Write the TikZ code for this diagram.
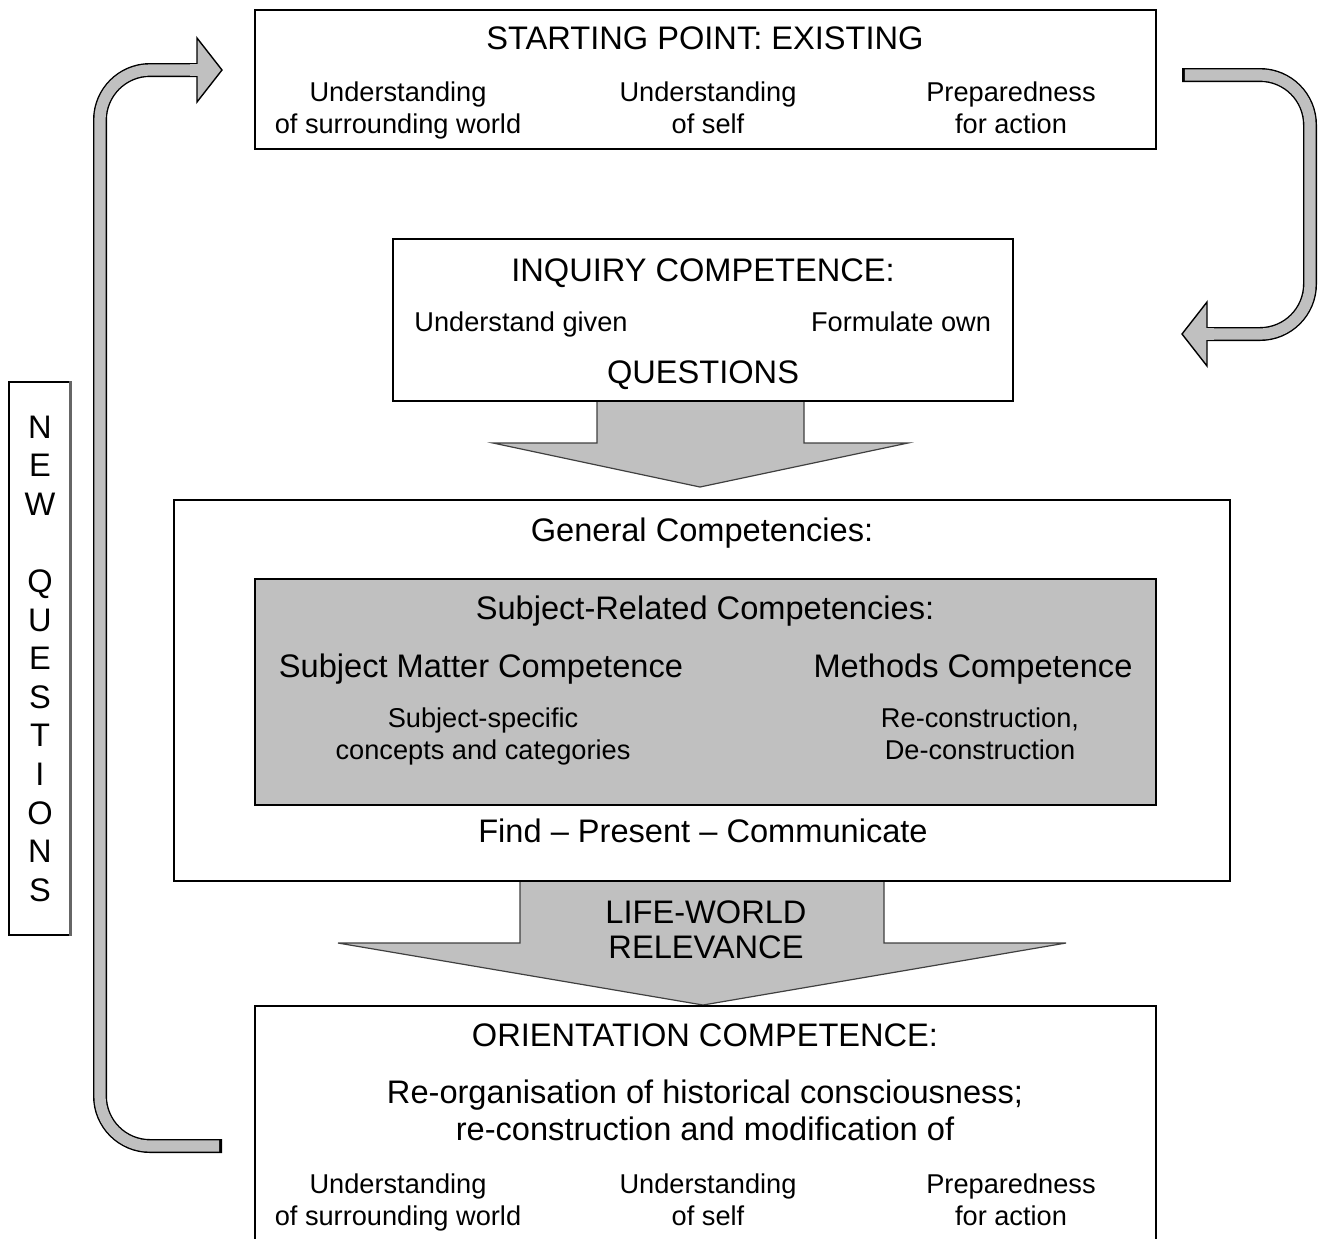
\documentclass[tikz,border=0pt]{standalone}
\usepackage{fontspec}
\setmainfont{Liberation Sans}
\definecolor{fillgray}{HTML}{C0C0C0}
\definecolor{edgegray}{HTML}{404040}
\begin{document}
\begin{tikzpicture}[x=0.5pt,y=-0.5pt,
  big/.style={font=\fontsize{16.3}{18.5}\selectfont, inner sep=0pt, align=center, text depth=0pt},
  small/.style={font=\fontsize{13.6}{16}\selectfont, inner sep=0pt, align=center, text depth=0pt},
  frame/.style={draw=black, line width=0.75pt, inner sep=0pt},
  blockarrow/.style={fill=fillgray, draw=edgegray, line width=0.6pt, line join=miter},
  bandout/.style={draw=black, line width=7pt, rounded corners=25pt},
  bandin/.style={draw=fillgray, line width=5.6pt, rounded corners=25pt},
  head/.style={fill=fillgray, draw=black, line width=0.7pt, line join=miter}]
\useasboundingbox (0,0) rectangle (1320,1238);

% ---- block arrows (drawn first, boxes on top) ----
\coordinate (a1l) at (597,401);
\coordinate (a1r) at (804,401);
\fill[fillgray] (597,401) -- (597,443) -- (493,443) -- (700,487) -- (908,443) -- (804,443) -- (804,401) -- cycle;
\draw[blockarrow, fill=none] (a1l) -- (597,443) -- (493,443) -- (700,487) -- (908,443) -- (804,443) -- (a1r);

\coordinate (a2l) at (520,881);
\coordinate (a2r) at (884,881);
\fill[fillgray] (520,881) -- (520,943) -- (338,943) -- (703,1005) -- (1066,943) -- (884,943) -- (884,881) -- cycle;
\draw[blockarrow, fill=none] (a2l) -- (520,943) -- (338,943) -- (703,1005) -- (1066,943) -- (884,943) -- (a2r);
\node[big] (life) at (706,929.5) {LIFE-WORLD\\[-1pt]RELEVANCE};

% ---- boxes ----
\node[frame, minimum width=450.5pt, minimum height=69.5pt] (start) at (705.5,79.5) {};
\node[frame, minimum width=310pt, minimum height=81pt] (inquiry) at (703,320) {};
\node[frame, minimum width=528pt, minimum height=190.5pt] (general) at (702,690.5) {};
\node[frame, fill=fillgray, minimum width=450.5pt, minimum height=113pt] (subject) at (705.5,692) {};
\node[frame, minimum width=450.5pt, minimum height=127pt] (orient) at (705.5,1133) {};
\node[frame, minimum width=30.5pt, minimum height=276.5pt] (newq) at (39.5,658.5) {};
\draw[draw=black!60, line width=1.5pt] (newq.north east) -- (newq.south east);

% ---- starting point ----
\node[big] (t1) at (705,38) {STARTING POINT: EXISTING};
\node[small] (s1) at (398,108) {Understanding\\of surrounding world};
\node[small] (s2) at (708,108) {Understanding\\of self};
\node[small] (s3) at (1011,108) {Preparedness\\for action};

% ---- inquiry ----
\node[big] (t2) at (703,270) {INQUIRY COMPETENCE:};
\node[small] (q1) at (521,322) {Understand given};
\node[small] (q2) at (901,322) {Formulate own};
\node[big] (q3) at (703,372) {QUESTIONS};

% ---- general ----
\node[big] (t3) at (702,530) {General Competencies:};
\node[big] (t4) at (705,608) {Subject-Related Competencies:};
\node[big] (smc) at (481,666) {Subject Matter Competence};
\node[big] (mc) at (973,666) {Methods Competence};
\node[small] (ssc) at (483,734) {Subject-specific\\concepts and categories};
\node[small] (rc) at (980,734) {Re-construction,\\De-construction};
\node[big] (find) at (703,831) {Find – Present – Communicate};

% ---- orientation ----
\node[big] (t5) at (705,1035) {ORIENTATION COMPETENCE:};
\node[big] (ro) at (705,1110) {Re-organisation of historical consciousness;\\re-construction and modification of};
\node[small] (o1) at (398,1200) {Understanding\\of surrounding world};
\node[small] (o2) at (708,1200) {Understanding\\of self};
\node[small] (o3) at (1011,1200) {Preparedness\\for action};

% ---- new questions ----
\node[font=\fontsize{16.3}{19.3}\selectfont, inner sep=0pt, align=center, text depth=0pt] (nq) at (40,658.5)
  {N\\E\\W\\~\\Q\\U\\E\\S\\T\\I\\O\\N\\S};

% ---- loop arrow left: orientation -> start ----
\coordinate (l0) at (222,1146);
\coordinate (l1) at (200,70);
\draw[bandout] (l0) -- (100,1146) -- (100,70) -- (l1);
\draw[bandin, shorten <=1.4pt] (l0) -- (100,1146) -- (100,70) -- (l1);
\draw[head] (197,38) -- (222,70) -- (197,102) -- cycle;
\draw[draw=fillgray, line width=5.6pt] (190,70) -- (199,70);

% ---- loop arrow right: start -> inquiry ----
\coordinate (r0) at (1182,75);
\coordinate (r1) at (1205,334);
\draw[bandout] (r0) -- (1310,75) -- (1310,334) -- (r1);
\draw[bandin, shorten <=1.4pt] (r0) -- (1310,75) -- (1310,334) -- (r1);
\draw[head] (1207,302) -- (1182,334) -- (1207,366) -- cycle;
\draw[draw=fillgray, line width=5.6pt] (1214,334) -- (1205,334);
\end{tikzpicture}
\end{document}
